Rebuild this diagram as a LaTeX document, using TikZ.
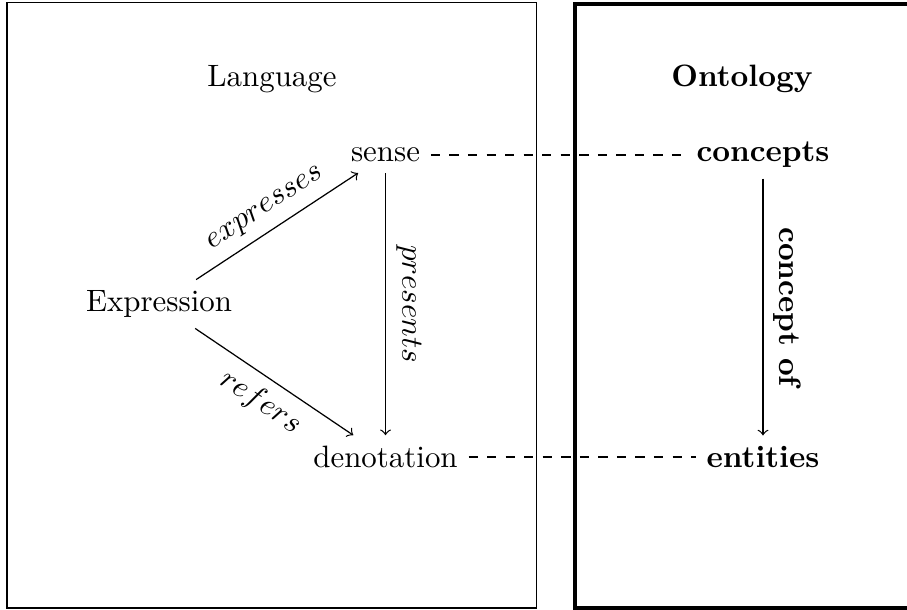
\documentclass[tikz,border=0pt]{standalone}
\begin{document}
\begin{tikzpicture}[x=0.3236pt,y=-0.3236pt,
  lbl/.style={sloped, execute at begin node=$, execute at end node=$},
  blbl/.style={font=\bfseries, sloped},
  arr/.style={->},
  dashlink/.style={dashed}]
\clip (0,0) rectangle (907,610);
\draw[line width=0.4pt] (7,2.5) rectangle (536.6,608);
\draw[line width=1.3pt] (574.5,3.7) rectangle (930,608);
\node (lang) at (272,79) {Language};
\node[font=\bfseries] (onto) at (742,79) {Ontology};
\node (sense) at (385.5,155) {sense};
\node[font=\bfseries] (concepts) at (763,155) {concepts};
\node (expr) at (159,304) {Expression};
\node (denot) at (385.5,457) {denotation};
\node[font=\bfseries] (entities) at (763,457) {entities};
\draw[arr] (expr) -- node[lbl,above]{expresses} (sense);
\draw[arr] (expr) -- node[lbl,below]{refers} (denot);
\draw[arr] (sense) -- node[lbl,above]{presents} (denot);
\draw[arr] (concepts) -- node[blbl,above]{concept of} (entities);
\draw[dashlink] (sense) -- (concepts);
\draw[dashlink] (denot) -- (entities);
\end{tikzpicture}
\end{document}
